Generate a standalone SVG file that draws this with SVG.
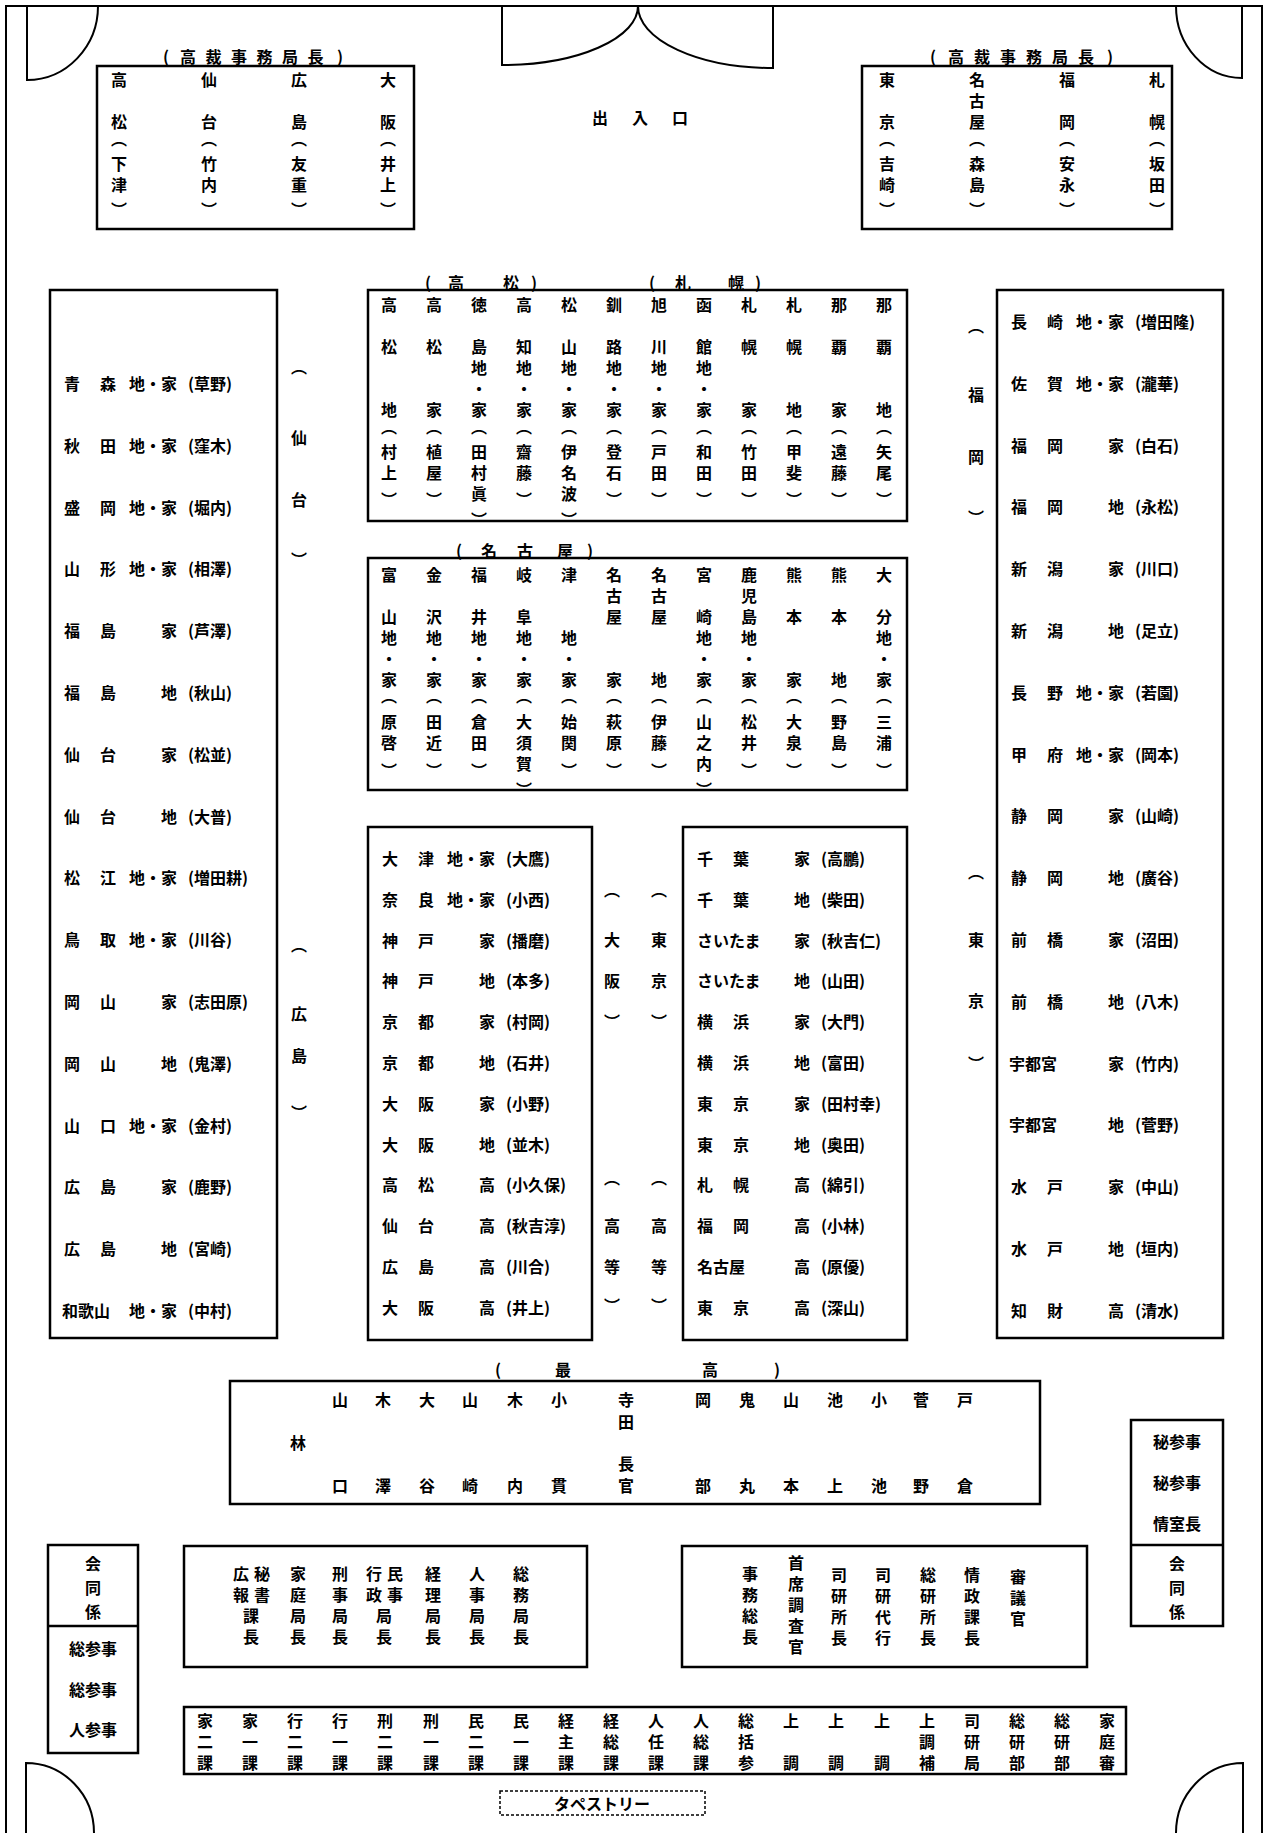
<svg xmlns="http://www.w3.org/2000/svg" width="1269" height="1833" viewBox="0 0 1269 1833">
<style>
text{font-family:"Noto Sans CJK JP","Noto Sans CJK SC",sans-serif;font-size:16px;font-weight:700;fill:#000;dominant-baseline:central}
.m{text-anchor:middle}
.b{fill:none;stroke:#000;stroke-width:2.5}
.w{fill:none;stroke:#000;stroke-width:2}
.d{fill:none;stroke:#000;stroke-width:1.5;stroke-dasharray:3 2}
</style>
<rect width="1269" height="1833" fill="#fff"/>
<g id="walls">
<path class="w" d="M6,1833 V6 H1262 V1833"/>
<path class="w" d="M27,6 V80 A71,74 0 0 0 98,6"/>
<path class="w" d="M1242,6 V78 A66,72 0 0 1 1176,6"/>
<path class="w" d="M502,6 V65 A136,59 0 0 0 638,6"/>
<path class="w" d="M773,6 V68 A135,62 0 0 1 638,6"/>
<path class="w" d="M26,1833 V1763 A68,70 0 0 1 94,1833"/>
<path class="w" d="M1243,1833 V1763 A67,70 0 0 0 1176,1833"/>
<text class="m" x="600 640 680" y="117 117 117">出入口</text>
</g>
<g id="connectors"></g>

<g id="tl-box">
<rect class="b" x="97" y="66" width="317" height="163"/>
<text class="m" x="166 188 213.5 239 264.5 290 315.5 340" y="56 56 56 56 56 56 56 56">(高裁事務局長)</text>
<text class="m" x="119 119 119 119 119 119" y="79 121 138 163 184 209">高松︵下津︶</text>
<text class="m" x="209 209 209 209 209 209" y="79 121 138 163 184 209">仙台︵竹内︶</text>
<text class="m" x="299 299 299 299 299 299" y="79 121 138 163 184 209">広島︵友重︶</text>
<text class="m" x="388 388 388 388 388 388" y="79 121 138 163 184 209">大阪︵井上︶</text>
</g>
<g id="tr-box">
<rect class="b" x="862" y="66" width="310" height="163"/>
<text class="m" x="933 956 982 1008 1034 1060 1086 1110" y="56 56 56 56 56 56 56 56">(高裁事務局長)</text>
<text class="m" x="887 887 887 887 887 887" y="79 121 138 163 184 209">東京︵吉崎︶</text>
<text class="m" x="977 977 977 977 977 977 977" y="79 100 121 138 163 184 209">名古屋︵森島︶</text>
<text class="m" x="1067 1067 1067 1067 1067 1067" y="79 121 138 163 184 209">福岡︵安永︶</text>
<text class="m" x="1157 1157 1157 1157 1157 1157" y="79 121 138 163 184 209">札幌︵坂田︶</text>
</g>

<g id="takamatsu-sapporo">
<rect class="b" x="368" y="290" width="539" height="231"/>
<text class="m" x="428 456 511 534" y="282 282 282 282">(高松)</text>
<text class="m" x="652 683 736 758" y="282 282 282 282">(札幌)</text>
<text class="m" x="389 389 389 389 389 389 389" y="304 346 409 426 451 472 499">高松地︵村上︶</text>
<text class="m" x="434 434 434 434 434 434 434" y="304 346 409 426 451 472 499">高松家︵植屋︶</text>
<text class="m" x="479 479 479 479 479 479 479 479 479 479" y="304 346 367 388 409 426 451 472 493 519">徳島地・家︵田村眞︶</text>
<text class="m" x="524 524 524 524 524 524 524 524 524" y="304 346 367 388 409 426 451 472 499">高知地・家︵齋藤︶</text>
<text class="m" x="569 569 569 569 569 569 569 569 569 569" y="304 346 367 388 409 426 451 472 493 519">松山地・家︵伊名波︶</text>
<text class="m" x="614 614 614 614 614 614 614 614 614" y="304 346 367 388 409 426 451 472 499">釧路地・家︵登石︶</text>
<text class="m" x="659 659 659 659 659 659 659 659 659" y="304 346 367 388 409 426 451 472 499">旭川地・家︵戸田︶</text>
<text class="m" x="704 704 704 704 704 704 704 704 704" y="304 346 367 388 409 426 451 472 499">函館地・家︵和田︶</text>
<text class="m" x="749 749 749 749 749 749 749" y="304 346 409 426 451 472 499">札幌家︵竹田︶</text>
<text class="m" x="794 794 794 794 794 794 794" y="304 346 409 426 451 472 499">札幌地︵甲斐︶</text>
<text class="m" x="839 839 839 839 839 839 839" y="304 346 409 426 451 472 499">那覇家︵遠藤︶</text>
<text class="m" x="884 884 884 884 884 884 884" y="304 346 409 426 451 472 499">那覇地︵矢尾︶</text>
</g>

<g id="nagoya">
<rect class="b" x="368" y="558" width="539" height="232"/>
<text class="m" x="459 489 525 565 590" y="550 550 550 550 550">(名古屋)</text>
<text class="m" x="389 389 389 389 389 389 389 389 389" y="574 616 637 658 679 695 721 742 770">富山地・家︵原啓︶</text>
<text class="m" x="434 434 434 434 434 434 434 434 434" y="574 616 637 658 679 695 721 742 770">金沢地・家︵田近︶</text>
<text class="m" x="479 479 479 479 479 479 479 479 479" y="574 616 637 658 679 695 721 742 770">福井地・家︵倉田︶</text>
<text class="m" x="524 524 524 524 524 524 524 524 524 524" y="574 616 637 658 679 695 721 742 763 789">岐阜地・家︵大須賀︶</text>
<text class="m" x="569 569 569 569 569 569 569 569" y="574 637 658 679 695 721 742 770">津地・家︵始関︶</text>
<text class="m" x="614 614 614 614 614 614 614 614" y="574 595 616 679 695 721 742 770">名古屋家︵萩原︶</text>
<text class="m" x="659 659 659 659 659 659 659 659" y="574 595 616 679 695 721 742 770">名古屋地︵伊藤︶</text>
<text class="m" x="704 704 704 704 704 704 704 704 704 704" y="574 616 637 658 679 695 721 742 763 789">宮崎地・家︵山之内︶</text>
<text class="m" x="749 749 749 749 749 749 749 749 749 749" y="574 595 616 637 658 679 695 721 742 770">鹿児島地・家︵松井︶</text>
<text class="m" x="794 794 794 794 794 794 794" y="574 616 679 695 721 742 770">熊本家︵大泉︶</text>
<text class="m" x="839 839 839 839 839 839 839" y="574 616 679 695 721 742 770">熊本地︵野島︶</text>
<text class="m" x="884 884 884 884 884 884 884 884 884" y="574 616 637 658 679 695 721 742 770">大分地・家︵三浦︶</text>
</g>

<g id="left-list">
<rect class="b" x="50" y="290" width="227" height="1048"/>
<text y="383"><tspan x="64">青</tspan><tspan x="100">森</tspan><tspan x="129">地・家</tspan><tspan x="188">(草野)</tspan></text>
<text y="444.8"><tspan x="64">秋</tspan><tspan x="100">田</tspan><tspan x="129">地・家</tspan><tspan x="188">(窪木)</tspan></text>
<text y="506.6"><tspan x="64">盛</tspan><tspan x="100">岡</tspan><tspan x="129">地・家</tspan><tspan x="188">(堀内)</tspan></text>
<text y="568.4"><tspan x="64">山</tspan><tspan x="100">形</tspan><tspan x="129">地・家</tspan><tspan x="188">(相澤)</tspan></text>
<text y="630.2"><tspan x="64">福</tspan><tspan x="100">島</tspan><tspan x="161">家</tspan><tspan x="188">(芦澤)</tspan></text>
<text y="692"><tspan x="64">福</tspan><tspan x="100">島</tspan><tspan x="161">地</tspan><tspan x="188">(秋山)</tspan></text>
<text y="753.8"><tspan x="64">仙</tspan><tspan x="100">台</tspan><tspan x="161">家</tspan><tspan x="188">(松並)</tspan></text>
<text y="815.6"><tspan x="64">仙</tspan><tspan x="100">台</tspan><tspan x="161">地</tspan><tspan x="188">(大普)</tspan></text>
<text y="877.4"><tspan x="64">松</tspan><tspan x="100">江</tspan><tspan x="129">地・家</tspan><tspan x="188">(増田耕)</tspan></text>
<text y="939.2"><tspan x="64">鳥</tspan><tspan x="100">取</tspan><tspan x="129">地・家</tspan><tspan x="188">(川谷)</tspan></text>
<text y="1001"><tspan x="64">岡</tspan><tspan x="100">山</tspan><tspan x="161">家</tspan><tspan x="188">(志田原)</tspan></text>
<text y="1062.8"><tspan x="64">岡</tspan><tspan x="100">山</tspan><tspan x="161">地</tspan><tspan x="188">(鬼澤)</tspan></text>
<text y="1124.6"><tspan x="64">山</tspan><tspan x="100">口</tspan><tspan x="129">地・家</tspan><tspan x="188">(金村)</tspan></text>
<text y="1186.4"><tspan x="64">広</tspan><tspan x="100">島</tspan><tspan x="161">家</tspan><tspan x="188">(鹿野)</tspan></text>
<text y="1248.2"><tspan x="64">広</tspan><tspan x="100">島</tspan><tspan x="161">地</tspan><tspan x="188">(宮崎)</tspan></text>
<text y="1310"><tspan x="62">和歌山</tspan><tspan x="129">地・家</tspan><tspan x="188">(中村)</tspan></text>
</g>
<g id="label-sendai"><text class="m" x="299 299 299 299" y="366 437 499 559">︵仙台︶</text></g>
<g id="label-hiroshima"><text class="m" x="299 299 299 299" y="944 1013 1055 1112">︵広島︶</text></g>

<g id="right-list">
<rect class="b" x="997" y="290" width="226" height="1048"/>
<text y="321"><tspan x="1011">長</tspan><tspan x="1047">崎</tspan><tspan x="1076">地・家</tspan><tspan x="1135">(増田隆)</tspan></text>
<text y="382.8"><tspan x="1011">佐</tspan><tspan x="1047">賀</tspan><tspan x="1076">地・家</tspan><tspan x="1135">(瀧華)</tspan></text>
<text y="444.6"><tspan x="1011">福</tspan><tspan x="1047">岡</tspan><tspan x="1108">家</tspan><tspan x="1135">(白石)</tspan></text>
<text y="506.4"><tspan x="1011">福</tspan><tspan x="1047">岡</tspan><tspan x="1108">地</tspan><tspan x="1135">(永松)</tspan></text>
<text y="568.2"><tspan x="1011">新</tspan><tspan x="1047">潟</tspan><tspan x="1108">家</tspan><tspan x="1135">(川口)</tspan></text>
<text y="630"><tspan x="1011">新</tspan><tspan x="1047">潟</tspan><tspan x="1108">地</tspan><tspan x="1135">(足立)</tspan></text>
<text y="691.8"><tspan x="1011">長</tspan><tspan x="1047">野</tspan><tspan x="1076">地・家</tspan><tspan x="1135">(若園)</tspan></text>
<text y="753.6"><tspan x="1011">甲</tspan><tspan x="1047">府</tspan><tspan x="1076">地・家</tspan><tspan x="1135">(岡本)</tspan></text>
<text y="815.4"><tspan x="1011">静</tspan><tspan x="1047">岡</tspan><tspan x="1108">家</tspan><tspan x="1135">(山崎)</tspan></text>
<text y="877.2"><tspan x="1011">静</tspan><tspan x="1047">岡</tspan><tspan x="1108">地</tspan><tspan x="1135">(廣谷)</tspan></text>
<text y="939"><tspan x="1011">前</tspan><tspan x="1047">橋</tspan><tspan x="1108">家</tspan><tspan x="1135">(沼田)</tspan></text>
<text y="1000.8"><tspan x="1011">前</tspan><tspan x="1047">橋</tspan><tspan x="1108">地</tspan><tspan x="1135">(八木)</tspan></text>
<text y="1062.6"><tspan x="1009">宇都宮</tspan><tspan x="1108">家</tspan><tspan x="1135">(竹内)</tspan></text>
<text y="1124.4"><tspan x="1009">宇都宮</tspan><tspan x="1108">地</tspan><tspan x="1135">(菅野)</tspan></text>
<text y="1186.2"><tspan x="1011">水</tspan><tspan x="1047">戸</tspan><tspan x="1108">家</tspan><tspan x="1135">(中山)</tspan></text>
<text y="1248"><tspan x="1011">水</tspan><tspan x="1047">戸</tspan><tspan x="1108">地</tspan><tspan x="1135">(垣内)</tspan></text>
<text y="1309.8"><tspan x="1011">知</tspan><tspan x="1047">財</tspan><tspan x="1108">高</tspan><tspan x="1135">(清水)</tspan></text>
</g>
<g id="label-fukuoka"><text class="m" x="976 976 976 976" y="325 394 456 517">︵福岡︶</text></g>
<g id="label-tokyo"><text class="m" x="976 976 976 976" y="871 939 1000 1063">︵東京︶</text></g>

<g id="osaka-list">
<rect class="b" x="368" y="827" width="224" height="513"/>
<text y="858"><tspan x="382">大</tspan><tspan x="418">津</tspan><tspan x="447">地・家</tspan><tspan x="506">(大鷹)</tspan></text>
<text y="898.8"><tspan x="382">奈</tspan><tspan x="418">良</tspan><tspan x="447">地・家</tspan><tspan x="506">(小西)</tspan></text>
<text y="939.6"><tspan x="382">神</tspan><tspan x="418">戸</tspan><tspan x="479">家</tspan><tspan x="506">(播磨)</tspan></text>
<text y="980.4"><tspan x="382">神</tspan><tspan x="418">戸</tspan><tspan x="479">地</tspan><tspan x="506">(本多)</tspan></text>
<text y="1021.2"><tspan x="382">京</tspan><tspan x="418">都</tspan><tspan x="479">家</tspan><tspan x="506">(村岡)</tspan></text>
<text y="1062"><tspan x="382">京</tspan><tspan x="418">都</tspan><tspan x="479">地</tspan><tspan x="506">(石井)</tspan></text>
<text y="1102.8"><tspan x="382">大</tspan><tspan x="418">阪</tspan><tspan x="479">家</tspan><tspan x="506">(小野)</tspan></text>
<text y="1143.6"><tspan x="382">大</tspan><tspan x="418">阪</tspan><tspan x="479">地</tspan><tspan x="506">(並木)</tspan></text>
<text y="1184.4"><tspan x="382">高</tspan><tspan x="418">松</tspan><tspan x="479">高</tspan><tspan x="506">(小久保)</tspan></text>
<text y="1225.2"><tspan x="382">仙</tspan><tspan x="418">台</tspan><tspan x="479">高</tspan><tspan x="506">(秋吉淳)</tspan></text>
<text y="1266"><tspan x="382">広</tspan><tspan x="418">島</tspan><tspan x="479">高</tspan><tspan x="506">(川合)</tspan></text>
<text y="1306.8"><tspan x="382">大</tspan><tspan x="418">阪</tspan><tspan x="479">高</tspan><tspan x="506">(井上)</tspan></text>
</g>
<g id="label-osaka"><text class="m" x="612 612 612 612" y="889 939 980 1021">︵大阪︶</text></g>
<g id="label-tokyo2"><text class="m" x="659 659 659 659" y="889 939 980 1021">︵東京︶</text></g>
<g id="label-koto1"><text class="m" x="612 612 612 612" y="1177 1225 1266 1305">︵高等︶</text></g>
<g id="label-koto2"><text class="m" x="659 659 659 659" y="1177 1225 1266 1305">︵高等︶</text></g>

<g id="tokyo-list">
<rect class="b" x="683" y="827" width="224" height="513"/>
<text y="858"><tspan x="697">千</tspan><tspan x="733">葉</tspan><tspan x="794">家</tspan><tspan x="821">(高鵬)</tspan></text>
<text y="898.8"><tspan x="697">千</tspan><tspan x="733">葉</tspan><tspan x="794">地</tspan><tspan x="821">(柴田)</tspan></text>
<text y="939.6"><tspan x="697">さいたま</tspan><tspan x="794">家</tspan><tspan x="821">(秋吉仁)</tspan></text>
<text y="980.4"><tspan x="697">さいたま</tspan><tspan x="794">地</tspan><tspan x="821">(山田)</tspan></text>
<text y="1021.2"><tspan x="697">横</tspan><tspan x="733">浜</tspan><tspan x="794">家</tspan><tspan x="821">(大門)</tspan></text>
<text y="1062"><tspan x="697">横</tspan><tspan x="733">浜</tspan><tspan x="794">地</tspan><tspan x="821">(富田)</tspan></text>
<text y="1102.8"><tspan x="697">東</tspan><tspan x="733">京</tspan><tspan x="794">家</tspan><tspan x="821">(田村幸)</tspan></text>
<text y="1143.6"><tspan x="697">東</tspan><tspan x="733">京</tspan><tspan x="794">地</tspan><tspan x="821">(奥田)</tspan></text>
<text y="1184.4"><tspan x="697">札</tspan><tspan x="733">幌</tspan><tspan x="794">高</tspan><tspan x="821">(綿引)</tspan></text>
<text y="1225.2"><tspan x="697">福</tspan><tspan x="733">岡</tspan><tspan x="794">高</tspan><tspan x="821">(小林)</tspan></text>
<text y="1266"><tspan x="697">名古屋</tspan><tspan x="794">高</tspan><tspan x="821">(原優)</tspan></text>
<text y="1306.8"><tspan x="697">東</tspan><tspan x="733">京</tspan><tspan x="794">高</tspan><tspan x="821">(深山)</tspan></text>
</g>

<g id="saiko">
<rect class="b" x="230" y="1381" width="810" height="123"/>
<text class="m" x="498 563 710 777" y="1369 1369 1369 1369">(最高)</text>
<text class="m" x="298" y="1442">林</text>
<text class="m" x="340 340" y="1399 1485">山口</text>
<text class="m" x="383 383" y="1399 1485">木澤</text>
<text class="m" x="427 427" y="1399 1485">大谷</text>
<text class="m" x="470 470" y="1399 1485">山崎</text>
<text class="m" x="515 515" y="1399 1485">木内</text>
<text class="m" x="559 559" y="1399 1485">小貫</text>
<text class="m" x="626 626 626 626" y="1399 1421 1463 1485">寺田長官</text>
<text class="m" x="703 703" y="1399 1485">岡部</text>
<text class="m" x="747 747" y="1399 1485">鬼丸</text>
<text class="m" x="791 791" y="1399 1485">山本</text>
<text class="m" x="835 835" y="1399 1485">池上</text>
<text class="m" x="879 879" y="1399 1485">小池</text>
<text class="m" x="921 921" y="1399 1485">菅野</text>
<text class="m" x="965 965" y="1399 1485">戸倉</text>
</g>

<g id="right-small">
<rect class="b" x="1131" y="1420" width="92" height="206"/>
<line class="b" x1="1131" y1="1545" x2="1223" y2="1545"/>
<text class="m" x="1177" y="1441">秘参事</text>
<text class="m" x="1177" y="1482">秘参事</text>
<text class="m" x="1177" y="1523">情室長</text>
<text class="m" x="1177 1177 1177" y="1563 1587 1611">会同係</text>
</g>
<g id="left-small">
<rect class="b" x="48" y="1545" width="90" height="208"/>
<line class="b" x1="48" y1="1626" x2="138" y2="1626"/>
<text class="m" x="93 93 93" y="1563 1587 1611">会同係</text>
<text class="m" x="93" y="1648">総参事</text>
<text class="m" x="93" y="1689">総参事</text>
<text class="m" x="93" y="1729">人参事</text>
</g>

<g id="kyokucho">
<rect class="b" x="184" y="1546" width="403" height="121"/>
<text class="m" x="241 241 262 262 251 251" y="1573 1594 1573 1594 1615 1636">広報秘書課長</text>
<text class="m" x="298 298 298 298" y="1573 1594 1615 1636">家庭局長</text>
<text class="m" x="340 340 340 340" y="1573 1594 1615 1636">刑事局長</text>
<text class="m" x="374 374 395 395 384 384" y="1573 1594 1573 1594 1615 1636">行政民事局長</text>
<text class="m" x="433 433 433 433" y="1573 1594 1615 1636">経理局長</text>
<text class="m" x="477 477 477 477" y="1573 1594 1615 1636">人事局長</text>
<text class="m" x="521 521 521 521" y="1573 1594 1615 1636">総務局長</text>
</g>
<g id="somu">
<rect class="b" x="682" y="1546" width="405" height="121"/>
<text class="m" x="750 750 750 750" y="1573 1594 1615 1636">事務総長</text>
<text class="m" x="796 796 796 796 796" y="1562 1583 1604 1625 1646">首席調査官</text>
<text class="m" x="839 839 839 839" y="1574 1595 1616 1637">司研所長</text>
<text class="m" x="883 883 883 883" y="1574 1595 1616 1637">司研代行</text>
<text class="m" x="928 928 928 928" y="1574 1595 1616 1637">総研所長</text>
<text class="m" x="972 972 972 972" y="1574 1595 1616 1637">情政課長</text>
<text class="m" x="1018 1018 1018" y="1576 1597 1618">審議官</text>
</g>

<g id="kacho">
<rect class="b" x="184" y="1707" width="942" height="67"/>
<text class="m" x="205 205 205" y="1720 1741 1762">家二課</text>
<text class="m" x="250 250 250" y="1720 1741 1762">家一課</text>
<text class="m" x="295 295 295" y="1720 1741 1762">行二課</text>
<text class="m" x="340 340 340" y="1720 1741 1762">行一課</text>
<text class="m" x="385 385 385" y="1720 1741 1762">刑二課</text>
<text class="m" x="431 431 431" y="1720 1741 1762">刑一課</text>
<text class="m" x="476 476 476" y="1720 1741 1762">民二課</text>
<text class="m" x="521 521 521" y="1720 1741 1762">民一課</text>
<text class="m" x="566 566 566" y="1720 1741 1762">経主課</text>
<text class="m" x="611 611 611" y="1720 1741 1762">経総課</text>
<text class="m" x="656 656 656" y="1720 1741 1762">人任課</text>
<text class="m" x="701 701 701" y="1720 1741 1762">人総課</text>
<text class="m" x="746 746 746" y="1720 1741 1762">総括参</text>
<text class="m" x="791 791" y="1720 1762">上調</text>
<text class="m" x="836 836" y="1720 1762">上調</text>
<text class="m" x="882 882" y="1720 1762">上調</text>
<text class="m" x="927 927 927" y="1720 1741 1762">上調補</text>
<text class="m" x="972 972 972" y="1720 1741 1762">司研局</text>
<text class="m" x="1017 1017 1017" y="1720 1741 1762">総研部</text>
<text class="m" x="1062 1062 1062" y="1720 1741 1762">総研部</text>
<text class="m" x="1107 1107 1107" y="1720 1741 1762">家庭審</text>
</g>

<g id="tapestry">
<rect class="d" x="500" y="1791" width="205" height="24"/>
<text class="m" x="602" y="1803">タペストリー</text>
</g>
</svg>
